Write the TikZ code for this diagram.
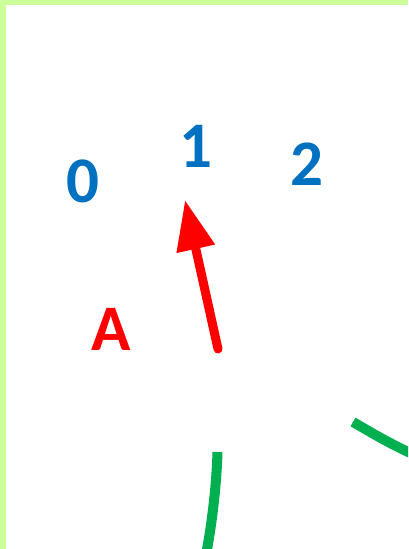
\documentclass[tikz,border=0pt]{standalone}
\usepackage{fontspec}
\setmainfont{Carlito}
\usepackage{xcolor}
\usepackage{tikz}
\usetikzlibrary{arrows.meta, positioning}

\definecolor{digitblue}{HTML}{0070C0}
\definecolor{framegreen}{HTML}{CCFF99}
\definecolor{arcgreen}{HTML}{00B050}

\begin{document}
\begin{tikzpicture}[
    x=1pt, y=-1pt,
    digit/.style={inner sep=0pt, anchor=base, text=digitblue, font=\fontsize{65}{65}\selectfont\bfseries},
    letter/.style={inner sep=0pt, anchor=base, text=red, font=\fontsize{65}{65}\selectfont\bfseries},
    pointer/.style={-{Triangle[length=50pt, width=37pt]}, red, line width=9pt, line cap=round},
    arcline/.style={arcgreen, line width=10pt}
]

\useasboundingbox (0,0) rectangle (408,549);
\fill[white] (0,0) rectangle (408,549);
\fill[framegreen] (0,0) rectangle (6,549);
\fill[framegreen] (0,0) rectangle (408,5);

\node[digit] (zero) at (83,202) {0};
\node[digit] (one) at (196,167) {1};
\node[digit] (two) at (307,185) {2};
\node[letter] (labelA) at (111,350) {A};

\coordinate (tail) at (218,349);
\coordinate (tip) at (185,200);
\draw[pointer] (tail) -- (tip);

\begin{scope}
\clip (0,0) rectangle (408,549);
\draw[arcline] (217.5,452) .. controls (216.5,485) and (212,525) .. (205,560);
\draw[arcline] (353,422) .. controls (372,433) and (392,445) .. (415,455);
\end{scope}

\end{tikzpicture}
\end{document}
